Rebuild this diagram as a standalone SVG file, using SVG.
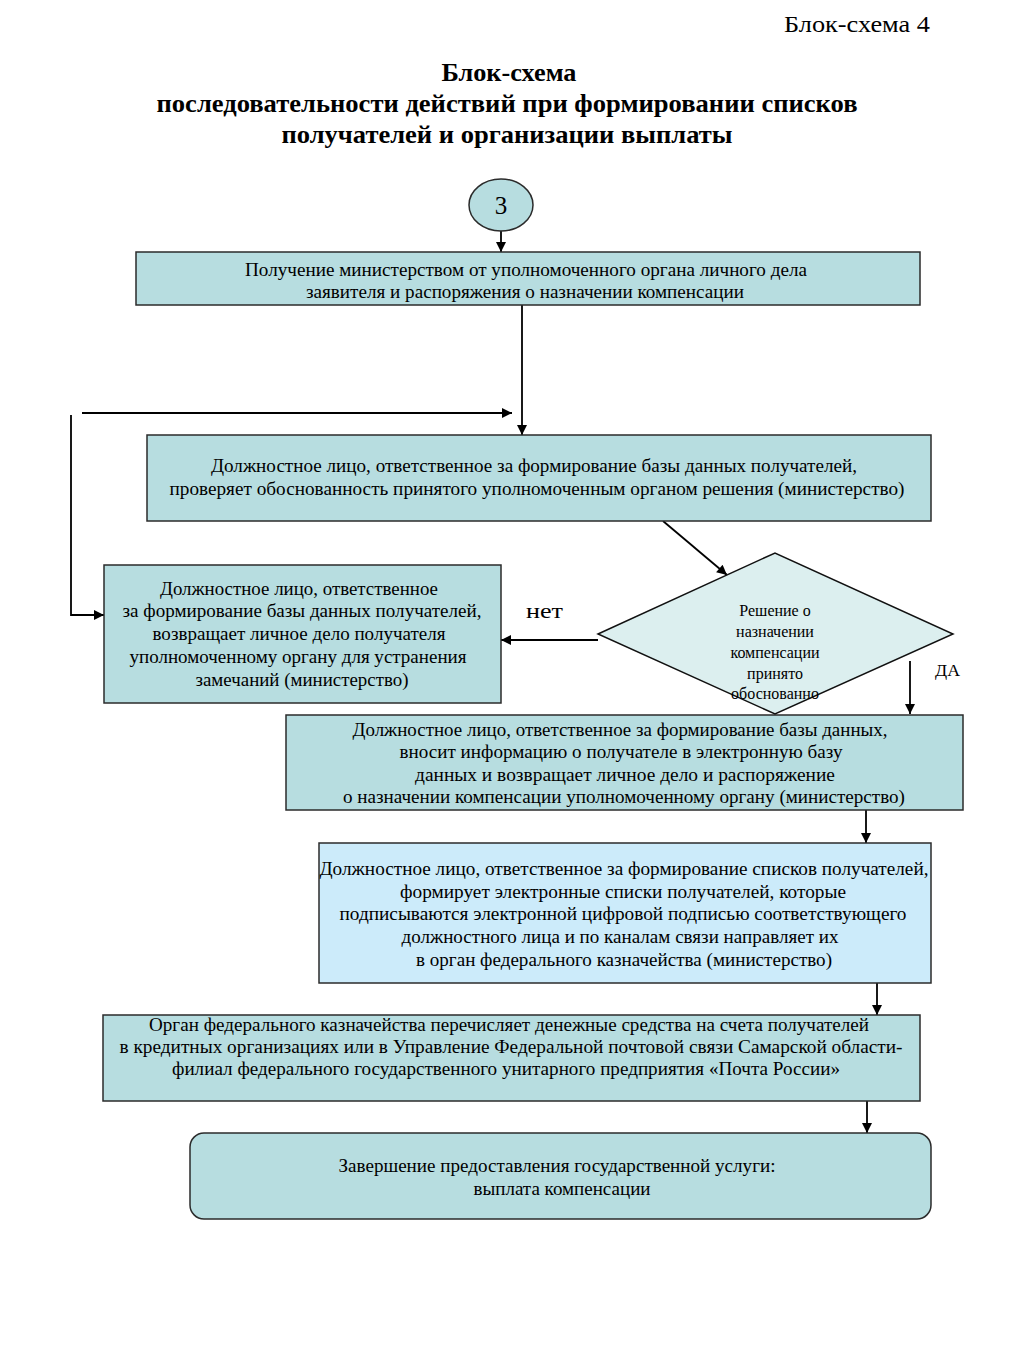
<svg xmlns="http://www.w3.org/2000/svg" width="1024" height="1365" viewBox="0 0 1024 1365">
<defs>
<marker id="ah" viewBox="0 0 10 10" refX="10" refY="5" markerWidth="11" markerHeight="10" markerUnits="userSpaceOnUse" orient="auto">
<path d="M0,0 L10,5 L0,10 z" fill="#000"/>
</marker>
</defs>
<style>
text{font-family:"Liberation Serif","Times New Roman",serif;fill:#000}
.t{font-size:18px;text-anchor:middle}
.d{font-size:16px;text-anchor:middle}
.h{font-size:25px;font-weight:bold;text-anchor:middle}
.box{fill:#B7DDE0;stroke:#2b2b2b;stroke-width:1.5}
.blue{fill:#CCEBFA;stroke:#2b2b2b;stroke-width:1.5}
.dia{fill:#DCEFEF;stroke:#111;stroke-width:1.5}
.c{stroke:#000;stroke-width:1.8;fill:none}
.a{stroke:#000;stroke-width:1.8;fill:none;marker-end:url(#ah)}
</style>
<rect width="1024" height="1365" fill="#fff"/>
<g id="header">
<text x="930" y="32" style="font-size:23px;text-anchor:end" textLength="146" lengthAdjust="spacingAndGlyphs">Блок-схема 4</text>
<text class="h" x="509" y="81" textLength="135" lengthAdjust="spacingAndGlyphs">Блок-схема</text>
<text class="h" x="507" y="112" textLength="701" lengthAdjust="spacingAndGlyphs">последовательности действий при формировании списков</text>
<text class="h" x="507" y="143" textLength="451" lengthAdjust="spacingAndGlyphs">получателей и организации выплаты</text>
</g>
<g id="connectors">
<line class="a" x1="501" y1="231" x2="501" y2="252"/>
<line class="a" x1="522" y1="305" x2="522" y2="435"/>
<line class="a" x1="82" y1="413" x2="512" y2="413"/>
<polyline class="a" points="71,415 71,615 104,615"/>
<line class="a" x1="663" y1="521" x2="727" y2="575"/>
<line class="a" x1="598" y1="640" x2="501" y2="640"/>
<line class="a" x1="910" y1="661" x2="910" y2="714"/>
<line class="a" x1="866" y1="810" x2="866" y2="843"/>
<line class="a" x1="877" y1="983" x2="877" y2="1015"/>
<line class="a" x1="867" y1="1101" x2="867" y2="1133"/>
<text x="526" y="618" style="font-size:22px" textLength="37" lengthAdjust="spacingAndGlyphs">нет</text>
<text x="935" y="676" style="font-size:16px" textLength="25" lengthAdjust="spacingAndGlyphs">ДА</text>
</g>
<g id="n0">
<ellipse cx="501" cy="205" rx="32" ry="26" class="box"/>
<text x="501" y="214" style="font-size:25px;text-anchor:middle">3</text>
</g>
<g id="n1">
<rect x="136" y="252" width="784" height="53" class="box"/>
<text class="t" x="526" y="276" textLength="562" lengthAdjust="spacingAndGlyphs">Получение министерством от уполномоченного органа личного дела</text>
<text class="t" x="525" y="298" textLength="438" lengthAdjust="spacingAndGlyphs">заявителя и распоряжения о назначении компенсации</text>
</g>
<g id="n2">
<rect x="147" y="435" width="784" height="86" class="box"/>
<text class="t" x="534" y="472" textLength="646" lengthAdjust="spacingAndGlyphs">Должностное лицо, ответственное за формирование базы данных получателей,</text>
<text class="t" x="537" y="495" textLength="735" lengthAdjust="spacingAndGlyphs">проверяет обоснованность  принятого уполномоченным органом решения (министерство)</text>
</g>
<g id="n3">
<rect x="104" y="565" width="397" height="138" class="box"/>
<text class="t" x="299" y="595" textLength="278" lengthAdjust="spacingAndGlyphs">Должностное лицо, ответственное</text>
<text class="t" x="302" y="617" textLength="359" lengthAdjust="spacingAndGlyphs">за формирование базы данных получателей,</text>
<text class="t" x="299" y="640" textLength="293" lengthAdjust="spacingAndGlyphs">возвращает личное дело получателя</text>
<text class="t" x="298" y="663" textLength="337" lengthAdjust="spacingAndGlyphs">уполномоченному органу для устранения</text>
<text class="t" x="302" y="686" textLength="213" lengthAdjust="spacingAndGlyphs">замечаний (министерство)</text>
</g>
<g id="n4">
<rect x="286" y="715" width="677" height="95" class="box"/>
<text class="t" x="620" y="736" textLength="535" lengthAdjust="spacingAndGlyphs">Должностное лицо, ответственное за формирование базы данных,</text>
<text class="t" x="621" y="758" textLength="443" lengthAdjust="spacingAndGlyphs">вносит информацию о получателе в электронную базу</text>
<text class="t" x="625" y="781" textLength="420" lengthAdjust="spacingAndGlyphs">данных и возвращает личное дело   и распоряжение</text>
<text class="t" x="624" y="803" textLength="562" lengthAdjust="spacingAndGlyphs">о назначении компенсации уполномоченному органу (министерство)</text>
</g>
<g id="n5">
<polygon points="598,634 775,553 953,634 775,714" class="dia"/>
<text class="d" x="775" y="616">Решение о</text>
<text class="d" x="775" y="637">назначении</text>
<text class="d" x="775" y="658">компенсации</text>
<text class="d" x="775" y="679">принято</text>
<text class="d" x="775" y="699">обоснованно</text>
</g>
<g id="n6">
<rect x="319" y="843" width="612" height="140" class="blue"/>
<text class="t" x="624" y="875" textLength="609" lengthAdjust="spacingAndGlyphs">Должностное лицо, ответственное за  формирование списков получателей,</text>
<text class="t" x="623" y="898" textLength="446" lengthAdjust="spacingAndGlyphs">формирует электронные  списки получателей, которые</text>
<text class="t" x="623" y="920" textLength="567" lengthAdjust="spacingAndGlyphs">подписываются  электронной цифровой подписью соответствующего</text>
<text class="t" x="620" y="943" textLength="437" lengthAdjust="spacingAndGlyphs">должностного лица и по каналам связи направляет их</text>
<text class="t" x="624" y="966" textLength="416" lengthAdjust="spacingAndGlyphs">в орган федерального казначейства (министерство)</text>
</g>
<g id="n7">
<rect x="103" y="1015" width="817" height="86" class="box"/>
<text class="t" x="509" y="1031" textLength="720" lengthAdjust="spacingAndGlyphs">Орган федерального казначейства перечисляет денежные средства на счета получателей</text>
<text class="t" x="511" y="1053" textLength="783" lengthAdjust="spacingAndGlyphs">в кредитных организациях или в Управление  Федеральной почтовой связи Самарской области-</text>
<text class="t" x="506" y="1075" textLength="668" lengthAdjust="spacingAndGlyphs">филиал федерального государственного унитарного предприятия «Почта России»</text>
</g>
<g id="n8">
<rect x="190" y="1133" width="741" height="86" rx="14" ry="14" class="box"/>
<text class="t" x="557" y="1172" textLength="437" lengthAdjust="spacingAndGlyphs">Завершение предоставления государственной услуги:</text>
<text class="t" x="562" y="1195" textLength="177" lengthAdjust="spacingAndGlyphs">выплата компенсации</text>
</g>
</svg>
